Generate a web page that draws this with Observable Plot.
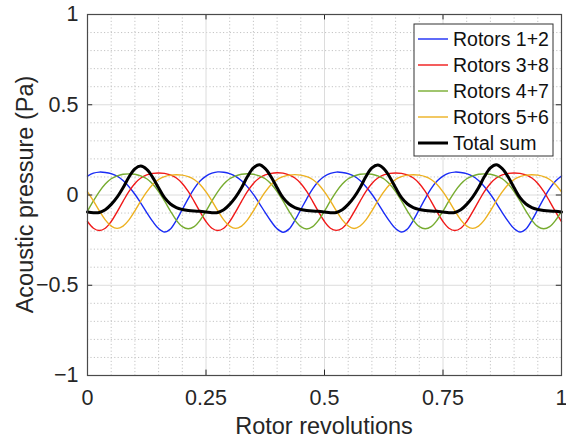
<!DOCTYPE html>
<html>
<head>
<meta charset="utf-8">
<script src="https://cdn.jsdelivr.net/npm/d3@7"></script>
<script src="https://cdn.jsdelivr.net/npm/@observablehq/plot@0.6"></script>
<style>
  body { margin: 0; background: #fff; }
  svg { display: block; }
</style>
</head>
<body>
<div id="chart"></div>
<script>
// Sample positions along one rotor revolution (step 1/80)
const revolutions = d3.range(81).map(i => +(i * 0.0125).toFixed(4));

// Acoustic pressure (Pa) per rotor pair
const rotors12 = [
  0.105, 0.121,
  0.127, 0.125, 0.118, 0.104, 0.080, 0.046, 0.004, -0.045, -0.097, -0.146, -0.186, -0.205, -0.188, -0.140, -0.080, -0.020, 0.035, 0.077, 0.105, 0.121,
  0.128, 0.126, 0.118, 0.103, 0.079, 0.045, 0.003, -0.046, -0.098, -0.147, -0.187, -0.206, -0.189, -0.141, -0.081, -0.021, 0.034, 0.076, 0.104, 0.120,
  0.127, 0.125, 0.118, 0.104, 0.080, 0.046, 0.004, -0.045, -0.097, -0.146, -0.186, -0.205, -0.188, -0.140, -0.080, -0.020, 0.035, 0.077, 0.105, 0.121,
  0.127, 0.125, 0.118, 0.104, 0.080, 0.046, 0.004, -0.045, -0.097, -0.146, -0.186, -0.205, -0.188, -0.140, -0.080, -0.020, 0.035, 0.077, 0.105
];
const rotors38 = [
  -0.147, -0.184, -0.197, -0.184, -0.147, -0.093, -0.035, 0.020, 0.064, 0.094, 0.111, 0.120,
  0.122, 0.120, 0.111, 0.094, 0.064, 0.020, -0.035, -0.093, -0.147, -0.184, -0.197, -0.184, -0.147, -0.093, -0.035, 0.020, 0.064, 0.094, 0.111, 0.120,
  0.123, 0.121, 0.111, 0.094, 0.064, 0.020, -0.035, -0.093, -0.147, -0.184, -0.196, -0.184, -0.147, -0.093, -0.035, 0.020, 0.064, 0.094, 0.111, 0.120,
  0.122, 0.120, 0.111, 0.094, 0.064, 0.020, -0.035, -0.093, -0.147, -0.184, -0.197, -0.184, -0.147, -0.093, -0.035, 0.020, 0.064, 0.094, 0.111, 0.120,
  0.122, 0.120, 0.111, 0.094, 0.064, 0.020, -0.035, -0.093, -0.147
];
const rotors47 = [
  -0.089, -0.033, 0.019, 0.061, 0.090, 0.106, 0.115,
  0.117, 0.115, 0.106, 0.090, 0.061, 0.019, -0.033, -0.089, -0.140, -0.175, -0.187, -0.175, -0.140, -0.089, -0.033, 0.019, 0.061, 0.090, 0.106, 0.115,
  0.118, 0.115, 0.106, 0.090, 0.061, 0.019, -0.033, -0.089, -0.140, -0.175, -0.188, -0.175, -0.140, -0.089, -0.033, 0.019, 0.061, 0.090, 0.106, 0.115,
  0.117, 0.115, 0.106, 0.090, 0.061, 0.019, -0.033, -0.089, -0.140, -0.175, -0.187, -0.175, -0.140, -0.089, -0.033, 0.019, 0.061, 0.090, 0.106, 0.115,
  0.117, 0.115, 0.106, 0.090, 0.061, 0.019, -0.033, -0.089, -0.140, -0.175, -0.187, -0.175, -0.140, -0.089
];
const rotors56 = [
  0.017, -0.033, -0.088, -0.138, -0.172, -0.185, -0.172, -0.138, -0.088, -0.033, 0.017, 0.058, 0.086, 0.102, 0.110,
  0.112, 0.110, 0.102, 0.086, 0.058, 0.017, -0.033, -0.088, -0.138, -0.172, -0.185, -0.172, -0.138, -0.088, -0.033, 0.017, 0.058, 0.086, 0.102, 0.110,
  0.113, 0.110, 0.102, 0.086, 0.058, 0.017, -0.033, -0.088, -0.138, -0.172, -0.186, -0.172, -0.138, -0.088, -0.033, 0.017, 0.058, 0.086, 0.102, 0.110,
  0.112, 0.110, 0.102, 0.086, 0.058, 0.017, -0.033, -0.088, -0.138, -0.172, -0.185, -0.172, -0.138, -0.088, -0.033, 0.017, 0.058, 0.086, 0.102, 0.110,
  0.112, 0.110, 0.102, 0.086, 0.058, 0.017
];
const totalSum = [
  -0.094, -0.098, -0.097, -0.082, -0.052, -0.012, 0.040, 0.100, 0.145,
  0.160, 0.142, 0.098, 0.040, -0.015, -0.050, -0.070, -0.080, -0.086, -0.089, -0.090, -0.094, -0.098, -0.097, -0.082, -0.052, -0.012, 0.040, 0.102, 0.150,
  0.167, 0.146, 0.100, 0.040, -0.015, -0.050, -0.070, -0.080, -0.086, -0.089, -0.090, -0.094, -0.098, -0.097, -0.082, -0.052, -0.012, 0.040, 0.102, 0.150,
  0.166, 0.146, 0.100, 0.040, -0.015, -0.050, -0.070, -0.080, -0.086, -0.089, -0.090, -0.094, -0.098, -0.097, -0.082, -0.052, -0.012, 0.040, 0.102, 0.150,
  0.167, 0.146, 0.100, 0.040, -0.015, -0.050, -0.070, -0.080, -0.086, -0.089, -0.090, -0.094
];

const seriesNames = ["Rotors 1+2", "Rotors 3+8", "Rotors 4+7", "Rotors 5+6", "Total sum"];
const seriesValues = [rotors12, rotors38, rotors47, rotors56, totalSum];
const seriesColors = ["#1a2cf5", "#f01818", "#77ac30", "#edb120", "#000000"];
const seriesWidths = [1.4, 1.4, 1.4, 1.4, 3];

const xTicks = [0, 0.25, 0.5, 0.75, 1];
const xTickLabels = ["0", "0.25", "0.5", "0.75", "1"];
const yTicks = [-1, -0.5, 0, 0.5, 1];
const yTickLabels = ["\u22121", "\u22120.5", "0", "0.5", "1"];
const xMinor = d3.range(1, 20).map(i => i * 0.05).filter(v => Math.abs(v * 4 - Math.round(v * 4)) > 1e-9);
const yMinor = d3.range(-9, 10).map(i => i * 0.1).filter(v => Math.abs(v * 2 - Math.round(v * 2)) > 1e-9);

const font = "'Liberation Sans', Arial, Helvetica, sans-serif";
const ink = "#262626";

// One line per series, drawn in legend order
const lineMarks = seriesNames.map((name, s) =>
  Plot.line(revolutions.map((t, i) => ({t, p: seriesValues[s][i]})), {
    x: "t", y: "p", stroke: seriesColors[s], strokeWidth: seriesWidths[s], curve: "catmull-rom"
  })
);

const plot = Plot.plot({
  width: 566,
  height: 442,
  marginLeft: 87,
  marginRight: 5,
  marginTop: 14,
  marginBottom: 67,
  style: {fontFamily: font, background: "#fff", color: ink},
  x: {domain: [0, 1]},
  y: {domain: [-1, 1]},
  marks: [
    // minor dotted grid
    Plot.ruleX(xMinor, {stroke: "#c4c4c4", strokeDasharray: "1.2,2.2", strokeWidth: 1}),
    Plot.ruleY(yMinor, {stroke: "#c4c4c4", strokeDasharray: "1.2,2.2", strokeWidth: 1}),
    // major grid
    Plot.ruleX(xTicks, {stroke: "#dcdcdc", strokeWidth: 1}),
    Plot.ruleY(yTicks, {stroke: "#dcdcdc", strokeWidth: 1}),
    ...lineMarks,
    // inward ticks on all four sides
    Plot.ruleX(xTicks, {y1: -1, y2: -0.97, stroke: ink}),
    Plot.ruleX(xTicks, {y1: 1, y2: 0.97, stroke: ink}),
    Plot.ruleY(yTicks, {x1: 0, x2: 0.011, stroke: ink}),
    Plot.ruleY(yTicks, {x1: 1, x2: 0.989, stroke: ink}),
    Plot.frame({stroke: "#4a4a4a", strokeWidth: 1.2}),
    Plot.axisX(xTicks, {
      tickSize: 0, tickPadding: 14, fontSize: 21.5, label: null,
      tickFormat: d => xTickLabels[xTicks.indexOf(d)]
    }),
    Plot.axisY(yTicks, {
      tickSize: 0, tickPadding: 9, fontSize: 21.5, label: null,
      tickFormat: d => yTickLabels[yTicks.indexOf(d)]
    })
  ]
});

document.getElementById("chart").appendChild(plot);

const svg = d3.select(plot);
const xs = plot.scale("x"), ys = plot.scale("y");

// axis titles
svg.append("text")
  .attr("x", (xs.apply(0) + xs.apply(1)) / 2).attr("y", 434)
  .attr("text-anchor", "middle")
  .attr("font-size", 23.5).attr("font-family", font).attr("fill", ink)
  .text("Rotor revolutions");
svg.append("text")
  .attr("transform", `translate(33,${(ys.apply(-1) + ys.apply(1)) / 2}) rotate(-90)`)
  .attr("text-anchor", "middle")
  .attr("font-size", 23.5).attr("font-family", font).attr("fill", ink)
  .text("Acoustic pressure (Pa)");

// legend box in the upper right corner of the axes
const lg = svg.append("g").attr("transform", "translate(414,24)");
lg.append("rect").attr("width", 139).attr("height", 132)
  .attr("fill", "#fff").attr("stroke", "#333").attr("stroke-width", 1);
seriesNames.forEach((name, s) => {
  const cy = 15 + s * 26;
  lg.append("line").attr("x1", 4).attr("x2", 34).attr("y1", cy).attr("y2", cy)
    .attr("stroke", seriesColors[s]).attr("stroke-width", seriesWidths[s]);
  lg.append("text").attr("x", 39).attr("y", cy).attr("dy", "0.35em")
    .attr("text-anchor", "start")
    .attr("font-size", 19.5).attr("font-family", font).attr("fill", "#111")
    .text(name);
});
</script>
</body>
</html>
